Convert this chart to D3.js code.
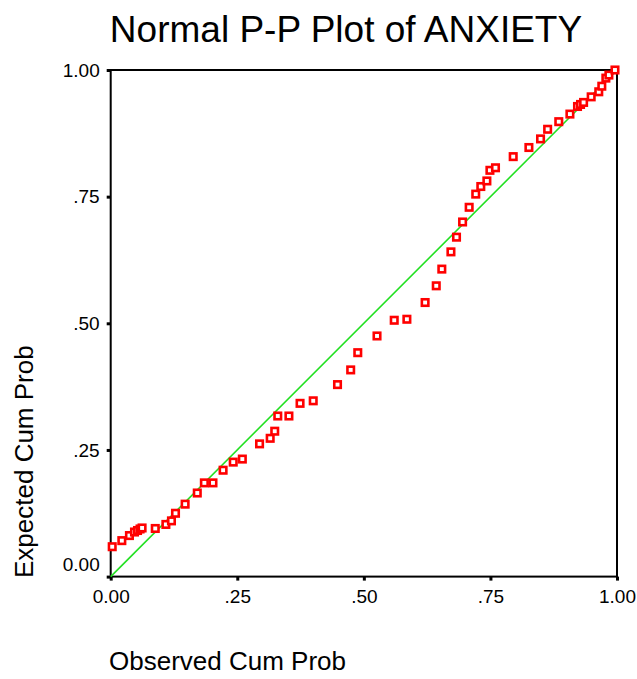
<!DOCTYPE html>
<html>
<head>
<meta charset="utf-8">
<script src="https://cdn.jsdelivr.net/npm/d3@7/dist/d3.min.js"></script>
<style>
  html, body { margin: 0; padding: 0; background: #fff; }
  svg { display: block; }
  text { font-family: "Liberation Sans", Arial, Helvetica, sans-serif; fill: #000; }
</style>
</head>
<body>
<svg id="chart" width="637" height="679"></svg>
<script>
// Observed cumulative probability (x) and expected cumulative probability (y)
const observed = [0.003, 0.022, 0.037, 0.047, 0.053, 0.058, 0.062, 0.088, 0.109, 0.120,
  0.128, 0.147, 0.171, 0.185, 0.202, 0.222, 0.242, 0.260, 0.294, 0.315,
  0.324, 0.330, 0.352, 0.374, 0.400, 0.448, 0.474, 0.488, 0.526, 0.560,
  0.585, 0.621, 0.643, 0.654, 0.672, 0.683, 0.695, 0.708, 0.721, 0.731,
  0.743, 0.749, 0.760, 0.795, 0.826, 0.849, 0.863, 0.885, 0.907, 0.922,
  0.928, 0.934, 0.949, 0.964, 0.970, 0.978, 0.984, 0.996];
const expected = [0.059, 0.071, 0.081, 0.088, 0.091, 0.094, 0.096, 0.095, 0.103, 0.110,
  0.125, 0.143, 0.165, 0.185, 0.185, 0.210, 0.226, 0.232, 0.262, 0.273,
  0.287, 0.317, 0.317, 0.342, 0.347, 0.379, 0.408, 0.442, 0.475, 0.506,
  0.508, 0.541, 0.574, 0.607, 0.641, 0.670, 0.700, 0.729, 0.755, 0.770,
  0.781, 0.802, 0.807, 0.829, 0.847, 0.864, 0.883, 0.898, 0.913, 0.928,
  0.932, 0.936, 0.947, 0.957, 0.968, 0.984, 0.990, 1.000];
const tickValues = [0, 0.25, 0.5, 0.75, 1];
const tickLabels = ["0.00", ".25", ".50", ".75", "1.00"];
const titleText = "Normal P-P Plot of ANXIETY";
const xLabel = "Observed Cum Prob";
const yLabel = "Expected Cum Prob";

const svg = d3.select("#chart");
const pLeft = 110.7, pRight = 617, pTop = 70, pBottom = 576.6;

const x = d3.scaleLinear().domain([0, 1]).range([pLeft, pRight]);
const y = d3.scaleLinear().domain([0, 1]).range([pBottom, pTop]);

// Title
svg.append("text")
  .attr("x", 346).attr("y", 42)
  .attr("text-anchor", "middle")
  .style("font-size", "37px")
  .text(titleText);

// Frame
svg.append("rect")
  .attr("x", pLeft).attr("y", pTop)
  .attr("width", pRight - pLeft).attr("height", pBottom - pTop)
  .attr("fill", "none").attr("stroke", "#000").attr("stroke-width", 2);

// Axes
const fmt = d => tickLabels[tickValues.indexOf(d)];
const xAxis = svg.append("g")
  .attr("transform", `translate(0,${pBottom})`)
  .call(d3.axisBottom(x).tickValues(tickValues).tickFormat(fmt).tickSize(4).tickPadding(9));
const yAxis = svg.append("g")
  .attr("transform", `translate(${pLeft},0)`)
  .call(d3.axisLeft(y).tickValues(tickValues).tickFormat(fmt).tickSize(4).tickPadding(7));

[xAxis, yAxis].forEach(g => {
  g.select(".domain").remove();
  g.selectAll(".tick line").attr("stroke", "#000").attr("stroke-width", 3);
  g.selectAll(".tick text").style("font-size", "19px").attr("fill", "#000")
    .style("font-family", '"Liberation Sans", Arial, sans-serif');
});
// lift the y "0.00" label clear of the x "0.00" label
yAxis.selectAll(".tick").filter(d => d === 0).select("text").attr("dy", "-0.3em");

// Reference line
svg.append("line")
  .attr("x1", x(0)).attr("y1", y(0))
  .attr("x2", x(1)).attr("y2", y(1))
  .attr("stroke", "#22e022").attr("stroke-width", 1.6);

// Points
const pts = observed.map((o, i) => ({o, e: expected[i]}));
const s = 6.5;
svg.append("g").selectAll("rect")
  .data(pts).join("rect")
  .attr("x", d => x(d.o) - s / 2)
  .attr("y", d => y(d.e) - s / 2)
  .attr("width", s).attr("height", s)
  .attr("fill", "#fff")
  .attr("stroke", "#ff0000").attr("stroke-width", 2.6);

// Axis titles
svg.append("text")
  .attr("x", 109).attr("y", 670)
  .style("font-size", "26px")
  .text(xLabel);

svg.append("text")
  .attr("transform", "translate(33,578) rotate(-90)")
  .style("font-size", "26px")
  .text(yLabel);
</script>
</body>
</html>
